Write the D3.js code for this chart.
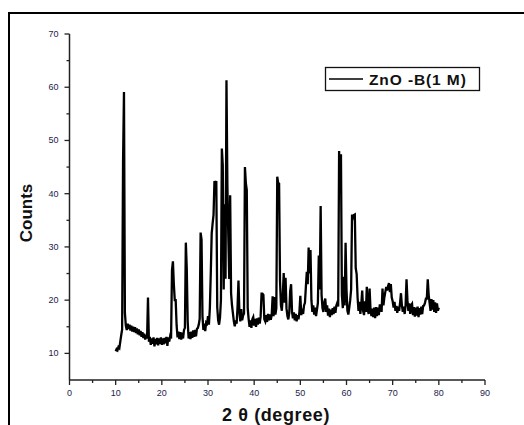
<!DOCTYPE html>
<html><head><meta charset="utf-8">
<script src="https://cdn.jsdelivr.net/npm/d3@7"></script>
<style>
html,body{margin:0;padding:0;background:#fff;}
svg{display:block;}
</style></head>
<body>
<script>
// 2θ scan start/step (degrees) and counts
const scanStart = 10.0;
const scanStep = 0.2;
const counts = [
10.4,10.8,10.6,11.2,11.0,
12.2,13.4,14.5,46.0,59.1,
17.6,15.2,14.4,15.6,14.6,
15.4,14.3,15.2,14.1,15.0,
14.0,14.9,13.8,14.7,13.6,
14.5,13.4,14.2,13.1,14.0,
12.9,13.7,12.6,13.4,12.8,
20.5,12.2,13.1,11.6,12.8,
11.8,13.0,11.3,12.7,11.7,
12.9,11.5,12.8,11.8,13.0,
11.6,12.8,11.7,12.9,11.9,
13.1,11.4,13.0,12.2,13.2,
12.8,25.6,27.3,23.0,20.0,
20.0,15.3,13.0,14.1,12.7,
14.0,12.6,13.9,12.8,14.4,
14.8,30.8,26.0,16.0,12.8,
14.0,12.7,14.1,12.9,14.3,
13.1,14.4,13.2,14.6,14.8,
15.4,16.5,32.7,31.4,17.0,
14.4,15.6,14.2,15.8,15.6,
17.0,15.4,18.5,25.0,32.5,
34.4,36.0,42.4,41.5,42.4,
18.7,16.2,15.4,16.7,20.0,
48.5,45.4,22.0,38.0,24.0,
61.3,41.6,31.9,24.0,39.7,
21.3,19.0,17.5,16.0,15.1,
16.2,15.6,18.7,23.7,17.8,
16.0,18.3,16.2,17.1,17.5,
45.0,42.0,40.7,18.5,16.5,
15.0,16.2,14.8,16.4,16.8,
15.2,16.5,15.0,16.6,15.4,
16.7,15.6,16.9,21.2,21.2,
21.0,16.4,16.0,17.2,15.9,
17.4,16.2,17.3,16.3,17.2,
20.7,17.0,20.6,17.3,18.5,
43.2,42.0,41.9,23.6,19.0,
18.0,21.0,25.1,19.5,24.2,
18.5,17.0,16.4,17.6,21.7,
23.0,17.8,16.6,17.7,16.2,
17.4,16.0,17.2,16.4,17.8,
20.8,17.2,18.4,17.4,19.0,
19.5,22.5,25.3,23.0,29.9,
25.0,29.4,20.0,17.8,19.0,
17.3,18.6,17.0,18.2,19.5,
28.4,22.0,37.7,21.0,18.5,
17.8,19.6,20.3,17.8,19.0,
17.1,18.4,16.8,18.2,17.2,
18.5,17.4,18.8,17.6,19.0,
19.5,18.8,48.0,40.0,47.4,
21.0,18.5,24.4,19.0,30.8,
22.0,18.0,17.3,18.6,20.0,
22.0,36.1,35.5,36.0,36.1,
26.0,24.9,20.5,18.0,19.7,
17.4,19.2,21.8,18.0,17.2,
19.8,17.8,22.5,18.4,17.4,
22.2,18.3,17.0,18.4,16.8,
18.6,16.6,18.7,17.0,18.6,
17.2,19.0,19.0,17.8,22.2,
19.0,20.5,21.5,22.5,21.8,
22.6,23.2,21.5,23.0,20.5,
19.8,18.6,19.7,18.0,18.9,
17.6,18.8,18.0,19.5,21.3,
19.0,17.8,18.8,17.4,19.0,
23.9,20.0,18.0,19.4,17.4,
19.0,19.3,17.2,18.7,16.9,
18.6,17.1,18.8,16.8,18.5,
17.3,18.8,17.4,18.9,19.0,
19.5,20.3,20.3,23.9,21.0,
19.5,18.0,20.2,18.2,20.0,
17.8,19.6,17.6,19.4,18.0,
18.6
];
const xTickValues = [0,10,20,30,40,50,60,70,80,90];
const yTickValues = [10,20,30,40,50,60,70];
const seriesName = "ZnO -B(1 M)";
const xTitle = "2 θ (degree)";
const yTitle = "Counts";

const W = 524, H = 425;
const svg = d3.select("body").append("svg").attr("width", W).attr("height", H);

// outer frame (only left and top edges visible)
svg.append("path").attr("d", "M9,425 V13 H524").attr("fill","none").attr("stroke","#000").attr("stroke-width",2);

const x = d3.scaleLinear().domain([0,90]).range([69.5,485]);
const y = d3.scaleLinear().domain([5,70]).range([380,34]);

const data = counts.map((c,i) => ({t: scanStart + i*scanStep, c}));

const axisColor = "#222";
const labelColor = "#1c1c4a";
const font = "Liberation Sans, Arial, sans-serif";

// X axis
const gx = svg.append("g").attr("transform","translate(0,380)");
gx.append("line").attr("x1",x(0)).attr("x2",x(90)).attr("stroke",axisColor).attr("stroke-width",1.5);
const xMinor = d3.range(5,90,10);
gx.selectAll(".xmin").data(xMinor).join("line").attr("x1",d=>x(d)).attr("x2",d=>x(d)).attr("y1",0).attr("y2",3).attr("stroke",axisColor).attr("stroke-width",1.3);
gx.selectAll(".xmaj").data(xTickValues).join("line").attr("x1",d=>x(d)).attr("x2",d=>x(d)).attr("y1",0).attr("y2",5).attr("stroke",axisColor).attr("stroke-width",1.3);
gx.selectAll(".xlab").data(xTickValues).join("text").attr("x",d=>x(d)).attr("y",16).attr("text-anchor","middle")
  .attr("font-family",font).attr("font-size",9).attr("fill",labelColor).text(d=>d);

// Y axis
const gy = svg.append("g").attr("transform","translate(69.5,0)");
gy.append("line").attr("y1",y(70)).attr("y2",y(5)).attr("stroke",axisColor).attr("stroke-width",1.5);
const yMinor = d3.range(15,70,10);
gy.selectAll(".ymin").data(yMinor).join("line").attr("y1",d=>y(d)).attr("y2",d=>y(d)).attr("x1",0).attr("x2",-3).attr("stroke",axisColor).attr("stroke-width",1.3);
gy.selectAll(".ymaj").data(yTickValues).join("line").attr("y1",d=>y(d)).attr("y2",d=>y(d)).attr("x1",0).attr("x2",-5).attr("stroke",axisColor).attr("stroke-width",1.3);
gy.selectAll(".ylab").data(yTickValues).join("text").attr("x",-11).attr("y",d=>y(d)).attr("dy","0.33em").attr("text-anchor","end")
  .attr("font-family",font).attr("font-size",9).attr("fill",labelColor).text(d=>d);

// titles
svg.append("text").attr("transform","translate(32,213) rotate(-90)").attr("text-anchor","middle")
  .attr("font-family",font).attr("font-weight","bold").attr("font-size",17).attr("fill","#111").text(yTitle);
svg.append("text").attr("x",276).attr("y",421).attr("text-anchor","middle").attr("letter-spacing",0.6)
  .attr("font-family",font).attr("font-weight","bold").attr("font-size",18).attr("fill","#111").text(xTitle);

// data line
const line = d3.line().x(d=>x(d.t)).y(d=>y(d.c));
svg.append("path").datum(data).attr("d",line).attr("fill","none").attr("stroke","#000").attr("stroke-width",2.3).attr("stroke-linejoin","miter");

// legend
const lg = svg.append("g");
lg.append("rect").attr("x",325.5).attr("y",67.5).attr("width",154).attr("height",23).attr("fill","#fff").attr("stroke","#111").attr("stroke-width",1.3);
lg.append("line").attr("x1",329).attr("x2",363).attr("y1",79).attr("y2",79).attr("stroke","#000").attr("stroke-width",1.5);
lg.append("text").attr("x",369).attr("y",85).attr("font-family",font).attr("font-weight","bold").attr("letter-spacing",0.9)
  .attr("font-size",15.5).attr("fill","#111").text(seriesName);
</script>
</body></html>
